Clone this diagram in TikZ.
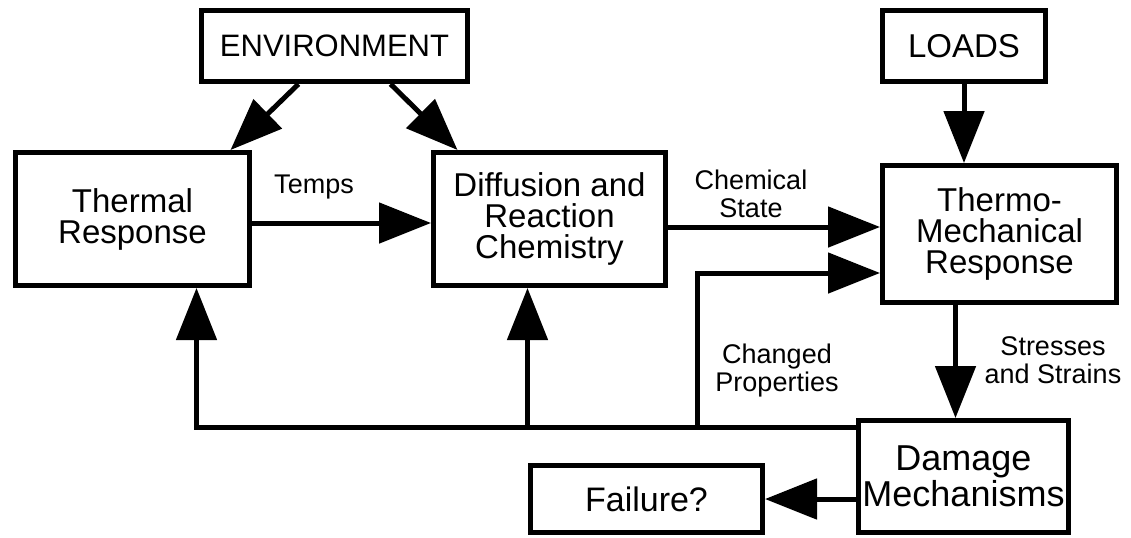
\documentclass[tikz,border=0pt]{standalone}
\usepackage{fontspec}
\setmainfont{Liberation Sans}
\usetikzlibrary{arrows.meta}
\usetikzlibrary{positioning}

\begin{document}
\begin{tikzpicture}[x=0.5pt, y=-0.5pt,
		blk/.style={draw, line width=2.5pt, align=center, inner sep=0pt, font=\fontsize{16.5}{15.5}\selectfont},
		lbl/.style={align=center, inner sep=0pt, font=\fontsize{13.5}{14}\selectfont},
		flow/.style={line width=2.5pt, -{Triangle[length=26pt, width=20pt]}}]
			\useasboundingbox (0,0) rectangle (1131,537);
			% inputs
			\node[blk, minimum width=133pt, minimum height=35.5pt, font=\fontsize{15.5}{15.5}\selectfont] (env) at (334.5,46) {ENVIRONMENT};
			\node[blk, minimum width=81.5pt, minimum height=35.5pt] (loads) at (964,46) {LOADS};
			% models
			\node[blk, minimum width=117pt, minimum height=66.5pt] (thermal) at (132.5,219) {Thermal\\Response};
			\node[blk, minimum width=116pt, minimum height=66.5pt] (diffusion) at (549.5,219) {Diffusion and\\Reaction\\Chemistry};
			\node[blk, minimum width=117pt, minimum height=68.5pt] (tm) at (999.5,234) {Thermo-\\Mechanical\\Response};
			\node[blk, minimum width=105pt, minimum height=56pt, font=\fontsize{18}{15}\selectfont] (damage) at (963.5,476.5) {Damage\\Mechanisms};
			\node[blk, minimum width=116pt, minimum height=33.5pt, font=\fontsize{17}{15}\selectfont] (failure) at (646.5,499) {Failure?};
			% forward arrows
			\draw[flow] ([xshift=-18pt]env.south) -- ([xshift=49pt]thermal.north);
			\draw[flow] ([xshift=28pt]env.south) -- ([xshift=-46pt]diffusion.north);
			\draw[flow] ([yshift=-2pt]thermal.east) -- ([yshift=-2pt]thermal.east -| diffusion.west);
			\draw[flow] ([yshift=-4pt]diffusion.east) -- ([yshift=-4pt]diffusion.east -| tm.west);
			\draw[flow] (loads.south) -- (loads.south |- tm.north);
			\coordinate (sd) at ([xshift=-4pt]damage.north);
			\draw[flow] (tm.south -| sd) -- (sd);
			\draw[flow] (damage.west |- failure) -- (failure.east);
			% feedback
			\coordinate (busy) at (0,427);
			\coordinate (tfb) at ([xshift=32pt]thermal.south);
			\coordinate (dfb) at ([xshift=-11pt]diffusion.south);
			\coordinate (cp) at ([yshift=-19.5pt]tm.west);
			\coordinate (cpx) at (697,427);
			\draw[flow] (damage.west |- busy) -| (tfb);
			\draw[flow] (damage.west |- busy) -| (dfb);
			\draw[flow] (damage.west |- busy) -- (cpx) |- (cp);
			% labels
			\node[lbl] (temps) at (314,187) {Temps};
			\node[lbl] (chem) at (751,194) {Chemical\\State};
			\node[lbl] (chprop) at (777,371) {Changed\\Properties};
			\node[lbl] (stress) at (1053,360) {Stresses\\and Strains};
		\end{tikzpicture}
\end{document}
